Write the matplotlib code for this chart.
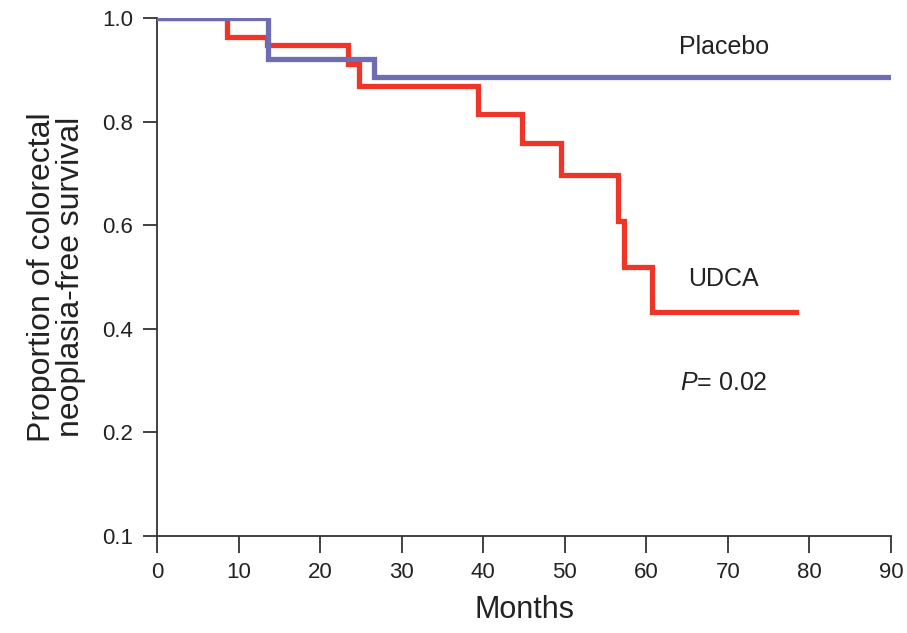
import matplotlib
matplotlib.use("Agg")
import matplotlib.pyplot as plt

# Kaplan-Meier step data (months, survival)
udca_t = [0, 8.6, 13.5, 23.4, 24.8, 39.3, 44.7, 49.5, 56.5, 57.3, 60.7, 78.3]
udca_s = [1.0, 0.963, 0.947, 0.911, 0.869, 0.814, 0.759, 0.697, 0.608, 0.519, 0.432, 0.432]
placebo_t = [0, 13.6, 26.6, 90]
placebo_s = [1.0, 0.921, 0.887, 0.887]

x_ticks = [0, 10, 20, 30, 40, 50, 60, 70, 80, 90]
y_ticks = [0.0, 0.2, 0.4, 0.6, 0.8, 1.0]
y_labels = ["0.1", "0.2", "0.4", "0.6", "0.8", "1.0"]

plt.rcParams["font.family"] = "Liberation Sans"
plt.rcParams["mathtext.fontset"] = "custom"
plt.rcParams["mathtext.it"] = "Liberation Sans:italic"
plt.rcParams["mathtext.rm"] = "Liberation Sans"

red = "#EE3528"
blue = "#6E6DB4"
axc = "#333333"
txt = "#222222"

fig = plt.figure(figsize=(9.07, 6.33), dpi=100)
ax = fig.add_axes([0.1731, 0.1532, 0.8093, 0.8184])

ax.step(placebo_t, placebo_s, where="post", color=blue, lw=3.8, solid_joinstyle="miter", zorder=3)
ax.step(udca_t, udca_s, where="post", color=red, lw=3.8, solid_joinstyle="miter", zorder=2)

ax.set_xlim(0, 90)
ax.set_ylim(0, 1.0)
ax.set_xticks(x_ticks)
ax.set_yticks(y_ticks)
ax.set_yticklabels(y_labels)

for s in ["top", "right"]:
    ax.spines[s].set_visible(False)
for s in ["left", "bottom"]:
    ax.spines[s].set_color(axc)
    ax.spines[s].set_linewidth(1.3)
ax.tick_params(axis="both", direction="out", length=10, width=1.3, color=axc,
               labelsize=16, labelcolor=txt, pad=7)
ax.tick_params(axis="x", length=12)

ax.set_xlabel("Months", fontsize=22, color=txt, labelpad=8)
ax.set_ylabel("Proportion of colorectal\nneoplasia-free survival", fontsize=23,
              color=txt, labelpad=12, linespacing=0.95)

ax.text(69.5, 0.944, "Placebo", fontsize=18, ha="center", va="center", color=txt)
ax.text(69.5, 0.497, "UDCA", fontsize=18, ha="center", va="center", color=txt)
ax.text(69.5, 0.296, r"$\mathit{P}$= 0.02", fontsize=18, ha="center", va="center", color=txt)

fig.savefig("out.png", dpi=100)
